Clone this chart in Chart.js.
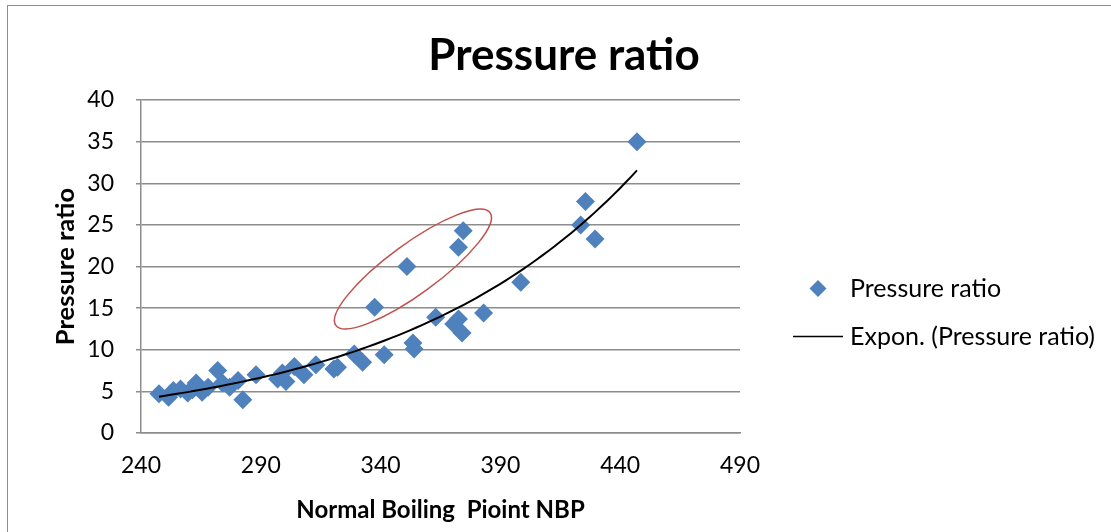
<!DOCTYPE html>
<html>
<head>
<meta charset="utf-8">
<script src="https://cdn.jsdelivr.net/npm/chart.js@4.4.0/dist/chart.umd.min.js"></script>
<style>
  html, body { margin: 0; padding: 0; background: #fff; }
  #wrap { position: relative; width: 1111px; height: 532px; overflow: hidden; }
  #frame { position: absolute; left: 7px; top: 5px; width: 1200px; height: 600px;
           border: 1.5px solid #8c8c8c; pointer-events: none; }
</style>
</head>
<body>
<div id="wrap">
  <canvas id="chart" width="1111" height="532"></canvas>
  <div id="frame"></div>
</div>
<script>
// normal boiling point (x) and pressure ratio (y)
const nbp = [247.5, 251.5, 253.5, 256.5, 259.5, 261.5, 263, 265.5, 268, 272, 274, 277, 280.5, 282.5,
             288, 297, 299, 300.5, 304, 308, 313, 320.5, 322, 329, 332.5, 341.5,
             353.5, 354, 363, 370.5, 372.5, 374, 383, 398.5, 423.5, 425.5, 429.5, 447,
             337.5, 351, 372.5, 374.5];
const pressureRatio = [4.7, 4.3, 5.1, 5.3, 4.8, 5.2, 6.0, 4.9, 5.5, 7.5, 6.0, 5.5, 6.3, 4.0,
             7.0, 6.5, 7.2, 6.2, 8.0, 7.0, 8.2, 7.7, 7.9, 9.5, 8.5, 9.4,
             10.8, 10.1, 13.9, 13.1, 13.7, 12.0, 14.4, 18.1, 25.0, 27.8, 23.3, 35.0,
             15.1, 20.0, 22.3, 24.3];
const xTicks = [240, 290, 340, 390, 440, 490];
const yTicks = [0, 5, 10, 15, 20, 25, 30, 35, 40];

const seriesName = 'Pressure ratio';
const trendName = 'Expon. (Pressure ratio)';

// hand-drawn red ellipse around the outliers (centre in data units)
const marked = { x: 353.5, y: 19.7, rx: 95.5, ry: 25, angle: -36.2 };

// Excel style exponential trendline: least squares on ln(y)
function expFit(xs, ys) {
    let n = xs.length, sx = 0, sy = 0, sxx = 0, sxy = 0;
    xs.forEach((x, i) => {
        const ly = Math.log(ys[i]);
        sx += x; sy += ly; sxx += x * x; sxy += x * ly;
    });
    const b = (n * sxy - sx * sy) / (n * sxx - sx * sx);
    const a = Math.exp((sy - b * sx) / n);
    return { a, b };
}

const fit = expFit(nbp, pressureRatio);
const xMin = Math.min(...nbp), xMax = Math.max(...nbp);
const trend = [];
for (let i = 0; i <= 80; i++) {
    const x = xMin + (xMax - xMin) * i / 80;
    trend.push({ x: x, y: fit.a * Math.exp(fit.b * x) });
}

const points = nbp.map((x, i) => ({ x: x, y: pressureRatio[i] }));

const FONT = 'Lato, "Open Sans", sans-serif';

const extras = {
    id: 'extras',
    afterDatasetsDraw(chart) {
        const { ctx, scales } = chart;
        // ellipse
        ctx.save();
        ctx.strokeStyle = '#c0504d';
        ctx.lineWidth = 1.5;
        ctx.beginPath();
        ctx.ellipse(scales.x.getPixelForValue(marked.x), scales.y.getPixelForValue(marked.y),
                    marked.rx, marked.ry, marked.angle * Math.PI / 180, 0, Math.PI * 2);
        ctx.stroke();
        ctx.restore();
    },
    afterDraw(chart) {
        const { ctx, chartArea } = chart;
        ctx.save();
        // title
        ctx.fillStyle = '#000';
        ctx.font = 'bold 44px ' + FONT;
        ctx.textAlign = 'center';
        ctx.textBaseline = 'middle';
        ctx.fillText(seriesName, 564, 56);

        // legend
        const lx = chartArea.right;
        const cy = (chartArea.top + chartArea.bottom) / 2;
        const ds = chart.data.datasets;
        ctx.font = '25px ' + FONT;
        ctx.textAlign = 'left';
        ctx.fillStyle = ds[1].backgroundColor;
        const y1 = cy + 22, y2 = cy + 70, r = 8.5;
        ctx.beginPath();
        ctx.moveTo(lx + 78 - r, y1);
        ctx.lineTo(lx + 78, y1 - r);
        ctx.lineTo(lx + 78 + r, y1);
        ctx.lineTo(lx + 78, y1 + r);
        ctx.closePath();
        ctx.fill();
        ctx.strokeStyle = ds[0].borderColor;
        ctx.lineWidth = 1.5;
        ctx.beginPath();
        ctx.moveTo(lx + 53, y2);
        ctx.lineTo(lx + 103, y2);
        ctx.stroke();
        ctx.fillStyle = '#000';
        ctx.fillText(ds[1].label, lx + 110, y1);
        ctx.fillText(ds[0].label, lx + 110, y2);
        ctx.restore();
    }
};

new Chart(document.getElementById('chart'), {
    type: 'scatter',
    data: {
        datasets: [{
            label: trendName,
            data: trend,
            showLine: true,
            borderColor: '#000000',
            borderWidth: 2,
            pointRadius: 0,
            tension: 0,
            order: 0
        }, {
            label: seriesName,
            data: points,
            pointStyle: 'rectRot',
            pointRadius: 9.5,
            backgroundColor: '#4f81bd',
            borderColor: '#4f81bd',
            borderWidth: 0,
            order: 1
        }]
    },
    options: {
        responsive: false,
        animation: false,
        layout: { padding: { top: 100, right: 371, left: 0, bottom: 0 } },
        plugins: {
            legend: { display: false },
            title: { display: false },
            tooltip: { enabled: false }
        },
        scales: {
            x: {
                type: 'linear',
                min: xTicks[0],
                max: xTicks[xTicks.length - 1],
                afterFit(scale) { scale.height = 99; },
                ticks: { stepSize: xTicks[1] - xTicks[0], padding: 19, color: '#000',
                         font: { family: FONT, size: 23 } },
                grid: { display: false, drawTicks: false },
                border: { display: true, color: '#8c8c8c', width: 1.5 },
                title: { display: true, text: 'Normal Boiling  Pioint NBP', color: '#000',
                         font: { family: FONT, size: 24, weight: 'bold' },
                         padding: { bottom: 7 } }
            },
            y: {
                min: yTicks[0],
                max: yTicks[yTicks.length - 1],
                afterFit(scale) { scale.width = 141; },
                ticks: { stepSize: yTicks[1] - yTicks[0], padding: 22, color: '#000',
                         font: { family: FONT, size: 23 } },
                grid: { color: '#8c8c8c', lineWidth: 1.5, tickLength: 5 },
                border: { display: true, color: '#8c8c8c', width: 1.5 },
                title: { display: true, text: 'Pressure ratio', color: '#000',
                         font: { family: FONT, size: 25.5, weight: 'bold' },
                         padding: { top: 50 } }
            }
        }
    },
    plugins: [extras]
});
</script>
</body>
</html>
